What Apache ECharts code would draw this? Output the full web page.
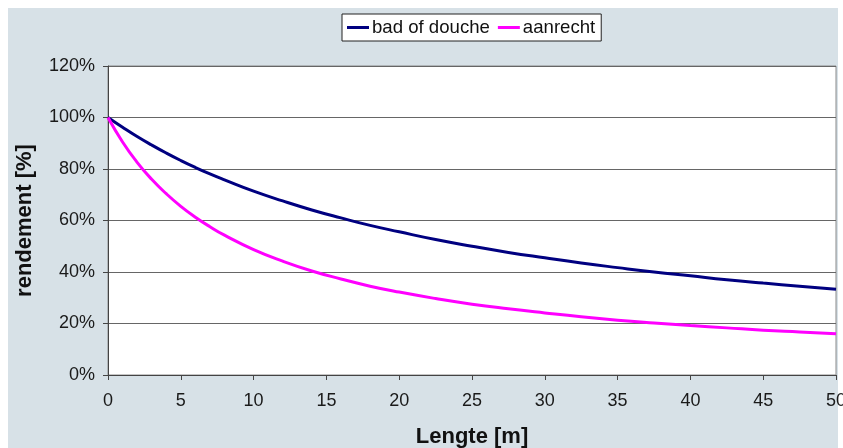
<!DOCTYPE html>
<html>
<head>
<meta charset="utf-8">
<script src="https://cdn.jsdelivr.net/npm/echarts@6/dist/echarts.min.js"></script>
<style>
html,body{margin:0;padding:0;background:#fff;}
#c{width:843px;height:448px;}
</style>
</head>
<body>
<div id="c"></div>
<script>
var lengths = [0,1,2,3,4,5,6,7,8,10,12,14,16,18,20,22.5,25,27.5,30,32.5,35,37.5,40,42.5,45,47.5,50];
var badDouche = [100,96.2,92.6,89.3,86.2,83.3,80.6,78.1,75.8,71.4,67.6,64.1,61.0,58.1,55.6,52.6,50.0,47.6,45.5,43.5,41.7,40.0,38.5,37.0,35.7,34.5,33.3];
var aanrecht = [100,90.5,82.6,76.0,70.4,65.5,61.3,57.6,54.3,48.7,44.2,40.4,37.3,34.5,32.2,29.7,27.5,25.7,24.1,22.6,21.3,20.2,19.2,18.3,17.4,16.7,16.0];
var seriesNames = ['bad of douche','aanrecht'];
var xTitle = 'Lengte [m]';
var yTitle = 'rendement [%]';

function pairs(xs, ys){ return xs.map(function(x,i){ return [x, ys[i]]; }); }

var chart = echarts.init(document.getElementById('c'), null, {renderer:'canvas'});
var font = 'Liberation Sans, Arial, sans-serif';
chart.setOption({
  animation:false,
  backgroundColor:'#fff',
  graphic:[{
    type:'rect', z:-10, silent:true,
    shape:{x:8,y:8,width:830,height:440},
    style:{fill:'#d7e1e7'}
  }],
  grid:{left:108,top:66,right:7,bottom:73,show:true,backgroundColor:'#fff',borderColor:'#8a8a8a',borderWidth:1,containLabel:false,outerBoundsMode:'none'},
  legend:{
    left:342, top:14,
    data:seriesNames,
    itemWidth:22, itemHeight:3, itemGap:8,
    backgroundColor:'#fff', borderColor:'#222', borderWidth:1,
    padding:[4,6,4,5],
    textStyle:{fontFamily:font,fontSize:18.6,color:'#111',padding:[0,0,0,-2]},
    icon:'rect'
  },
  xAxis:{
    type:'value', min:0, max:50, interval:5,
    name:xTitle, nameLocation:'middle', nameGap:51,
    nameTextStyle:{fontFamily:font,fontSize:22,fontWeight:'bold',color:'#111'},
    axisLine:{show:true,lineStyle:{color:'#444',width:1}},
    axisTick:{show:true,length:5,inside:false,lineStyle:{color:'#444'}},
    axisLabel:{fontFamily:font,fontSize:18,color:'#1a1a1a',margin:17,hideOverlap:false},
    splitLine:{show:false}
  },
  yAxis:{
    type:'value', min:0, max:120, interval:20,
    name:yTitle, nameLocation:'middle', nameGap:72, nameRotate:90,
    nameTextStyle:{fontFamily:font,fontSize:22,fontWeight:'bold',color:'#111'},
    axisLine:{show:true,lineStyle:{color:'#444',width:1}},
    axisTick:{show:true,length:5,inside:false,lineStyle:{color:'#444'}},
    axisLabel:{fontFamily:font,fontSize:18,color:'#1a1a1a',margin:13,formatter:'{value}%'},
    splitLine:{show:true,lineStyle:{color:'#666',width:1}}
  },
  series:[
    {name:seriesNames[0],type:'line',data:pairs(lengths,badDouche),smooth:true,showSymbol:false,
     lineStyle:{color:'#000080',width:3},itemStyle:{color:'#000080'}},
    {name:seriesNames[1],type:'line',data:pairs(lengths,aanrecht),smooth:true,showSymbol:false,
     lineStyle:{color:'#ff00ff',width:3},itemStyle:{color:'#ff00ff'}}
  ]
});
</script>
</body>
</html>
